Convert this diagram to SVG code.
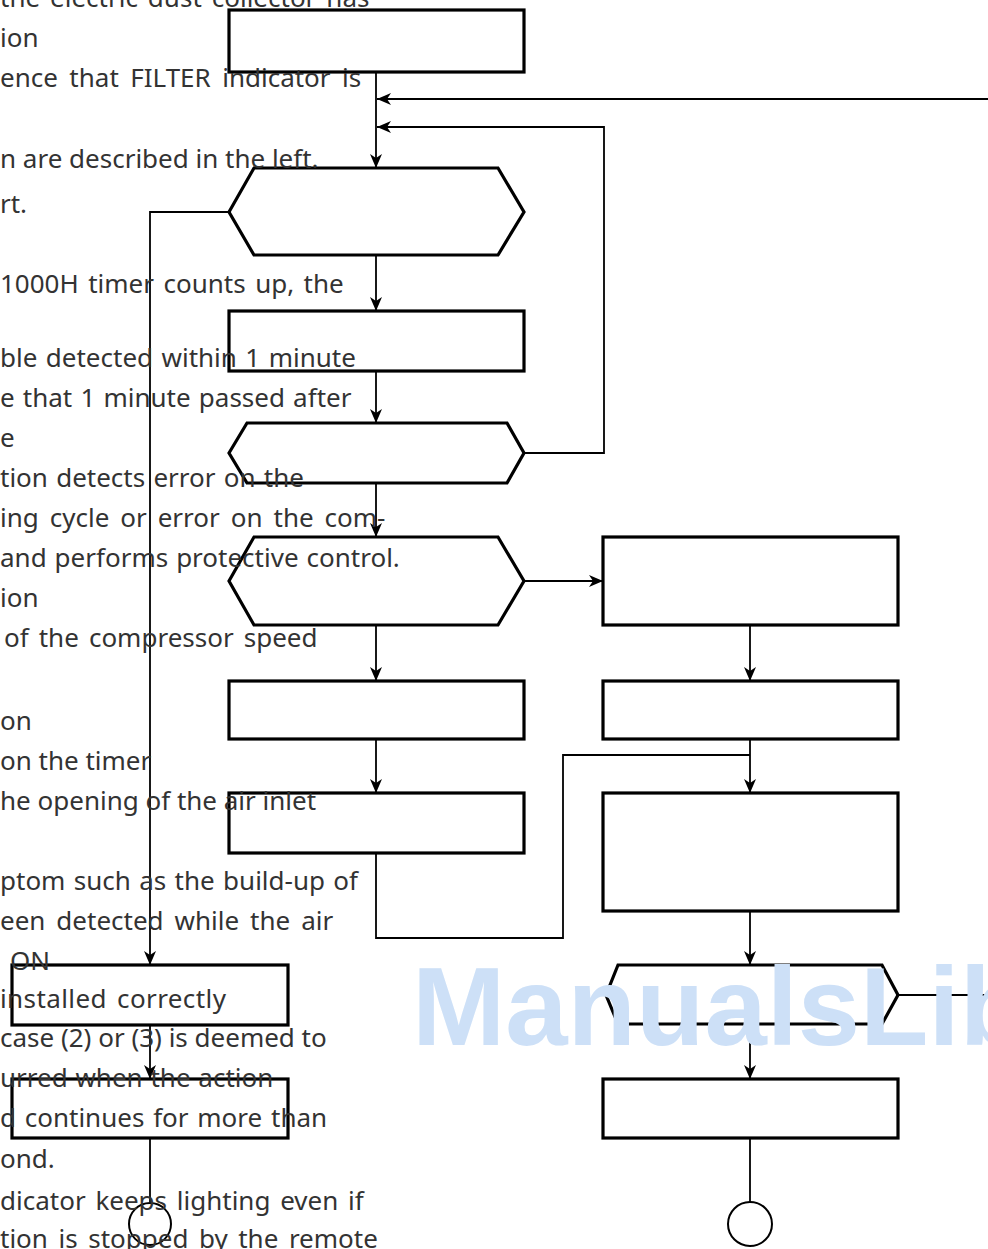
<svg xmlns="http://www.w3.org/2000/svg" width="988" height="1249" viewBox="0 0 988 1249">
<style>
.node{fill:#fff;stroke:#000;stroke-width:3.2}
.con{fill:none;stroke:#000;stroke-width:1.8}
.txt{font-family:"Noto Sans","Open Sans","DejaVu Sans",sans-serif;font-size:26px;fill:#333}
.wm{font-family:"Liberation Sans",Arial,sans-serif;font-weight:bold;font-size:112px;fill:#cde0f7}
</style>
<defs>
<marker id="arr" markerUnits="userSpaceOnUse" markerWidth="15" markerHeight="13" refX="14" refY="6" orient="auto">
<path d="M0,0 L14,6 L0,12 L4,6 z" fill="#000"/>
</marker>
</defs>
<rect width="988" height="1249" fill="#fff"/>
<g id="connectors">
<path class="con" d="M376,72 V168" marker-end="url(#arr)"/>
<path class="con" d="M988,99 H377" marker-end="url(#arr)"/>
<path class="con" d="M524,453 H604 V127 H377" marker-end="url(#arr)"/>
<path class="con" d="M376,255 V311" marker-end="url(#arr)"/>
<path class="con" d="M376,371 V423" marker-end="url(#arr)"/>
<path class="con" d="M376,483 V537" marker-end="url(#arr)"/>
<path class="con" d="M524,581 H603" marker-end="url(#arr)"/>
<path class="con" d="M376,625 V681" marker-end="url(#arr)"/>
<path class="con" d="M376,739 V793" marker-end="url(#arr)"/>
<path class="con" d="M376,853 V938 H563 V755 H750"/>
<path class="con" d="M750,625 V681" marker-end="url(#arr)"/>
<path class="con" d="M750,739 V793" marker-end="url(#arr)"/>
<path class="con" d="M750,911 V965" marker-end="url(#arr)"/>
<path class="con" d="M898,995 H988"/>
<path class="con" d="M750,1024 V1079" marker-end="url(#arr)"/>
<path class="con" d="M750,1138 V1202"/>
<path class="con" d="M229,212 H150 V965" marker-end="url(#arr)"/>
<path class="con" d="M150,1025 V1079" marker-end="url(#arr)"/>
<path class="con" d="M150,1138 V1202"/>
</g>
<g id="n1"><rect class="node" x="229" y="10" width="295" height="62"/></g>
<g id="n2"><polygon class="node" points="229,212 254,168 498,168 524,212 498,255 254,255"/></g>
<g id="n3"><rect class="node" x="229" y="311" width="295" height="60"/></g>
<g id="n4"><polygon class="node" points="229,453 247,423 507,423 524,453 507,483 247,483"/></g>
<g id="n5"><polygon class="node" points="229,581 254,537 498,537 524,581 498,625 254,625"/></g>
<g id="n6"><rect class="node" x="229" y="681" width="295" height="58"/></g>
<g id="n7"><rect class="node" x="229" y="793" width="295" height="60"/></g>
<g id="r1"><rect class="node" x="603" y="537" width="295" height="88"/></g>
<g id="r2"><rect class="node" x="603" y="681" width="295" height="58"/></g>
<g id="r3"><rect class="node" x="603" y="793" width="295" height="118"/></g>
<g id="r4"><polygon class="node" points="606,995 618,965 882,965 898,995 882,1024 618,1024"/></g>
<g id="r5"><rect class="node" x="603" y="1079" width="295" height="59"/></g>
<g id="r6"><circle cx="750" cy="1224" r="22" fill="#fff" stroke="#000" stroke-width="2"/></g>
<g id="l1"><rect class="node" x="12" y="965" width="276" height="60"/></g>
<g id="l2"><rect class="node" x="12" y="1079" width="276" height="59"/></g>
<g id="l3"><circle cx="150" cy="1224" r="21" fill="none" stroke="#000" stroke-width="2"/></g>
<g id="text">
<text class="txt" x="0" y="7" word-spacing="3.2">the electric dust collector has</text>
<text class="txt" x="0" y="47">ion</text>
<text class="txt" x="0" y="87" word-spacing="4.7">ence that FILTER indicator is</text>
<text class="txt" x="0" y="168">n are described in the left.</text>
<text class="txt" x="0" y="213">rt.</text>
<text class="txt" x="0" y="293" word-spacing="2.7">1000H timer counts up, the</text>
<text class="txt" x="0" y="367" word-spacing="1.7">ble detected within 1 minute</text>
<text class="txt" x="0" y="407" word-spacing="1.4">e that 1 minute passed after</text>
<text class="txt" x="0" y="447">e</text>
<text class="txt" x="0" y="487" word-spacing="1.5">tion detects error on the</text>
<text class="txt" x="0" y="527" word-spacing="4.2">ing cycle or error on the com-</text>
<text class="txt" x="0" y="567" word-spacing="1.2">and performs protective control.</text>
<text class="txt" x="0" y="607">ion</text>
<text class="txt" x="4" y="647" word-spacing="3.3">of the compressor speed</text>
<text class="txt" x="0" y="730">on</text>
<text class="txt" x="0" y="770">on the timer</text>
<text class="txt" x="0" y="810">he opening of the air inlet</text>
<text class="txt" x="0" y="890" word-spacing="1.6">ptom such as the build-up of</text>
<text class="txt" x="0" y="930" word-spacing="4.2">een detected while the air</text>
<text class="txt" x="10" y="970">ON</text>
<text class="txt" x="0" y="1008" word-spacing="3" letter-spacing="0.4">installed correctly</text>
<text class="txt" x="0" y="1047">case (2) or (3) is deemed to</text>
<text class="txt" x="0" y="1087" word-spacing="1">urred when the action</text>
<text class="txt" x="0" y="1127" word-spacing="2">d continues for more than</text>
<text class="txt" x="0" y="1168">ond.</text>
<text class="txt" x="0" y="1210" word-spacing="3">dicator keeps lighting even if</text>
<text class="txt" x="0" y="1248" word-spacing="3.8">tion is stopped by the remote</text>
</g>
<text class="wm" x="412" y="1045">ManualsLib</text>
</svg>
